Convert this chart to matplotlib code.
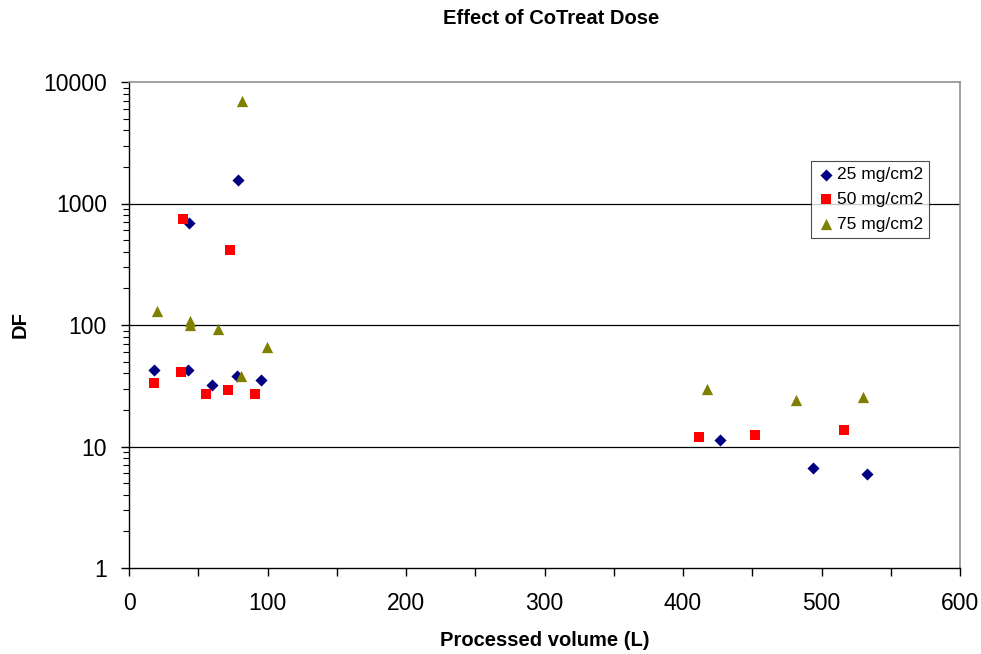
import matplotlib

matplotlib.use("Agg")
import matplotlib.pyplot as plt
from matplotlib.ticker import LogLocator, FixedFormatter, FixedLocator, NullFormatter

# Data
vol_25 = [18.3, 42.8, 43.5, 59.7, 77.7, 78.5, 95.3, 426.5, 493.9, 532.9]
df_25 = [43, 43, 687, 32, 38.3, 1560, 35.2, 11.3, 6.7, 5.9]

vol_50 = [18.3, 37.5, 38.7, 55.6, 71.7, 72.9, 90.7, 411.3, 452.0, 516.5]
df_50 = [33.5, 40.8, 741, 27, 29, 414, 27, 12.05, 12.4, 13.7]

vol_75 = [20.0, 44.3, 44.3, 64.3, 80.6, 81.8, 99.9, 417.6, 481.8, 530.0]
df_75 = [131, 108, 100, 92, 38, 7015, 65.5, 29.6, 24.2, 25.7]

x_ticks = [0, 50, 100, 150, 200, 250, 300, 350, 400, 450, 500, 550, 600]
x_labels = ["0", "", "100", "", "200", "", "300", "", "400", "", "500", "", "600"]
y_ticks = [1, 10, 100, 1000, 10000]
y_labels = ["1", "10", "100", "1000", "10000"]

series = [
    ("25 mg/cm2", vol_25, df_25, "D", "#000080", 38),
    ("50 mg/cm2", vol_50, df_50, "s", "#ff0000", 56),
    ("75 mg/cm2", vol_75, df_75, "^", "#808000", 66),
]

plt.rcParams["font.family"] = ["Liberation Sans", "DejaVu Sans"]

fig = plt.figure(figsize=(9.81, 6.54), dpi=100)
ax = fig.add_axes([129 / 981, 1 - 568 / 654, 831 / 981, 486 / 654])

for label, x, y, marker, color, size in series:
    ax.scatter(x, y, marker=marker, s=size, color=color, label=label,
               linewidths=0, zorder=3)

ax.set_yscale("log")
ax.set_xlim(0, 600)
ax.set_ylim(1, 10000)

# horizontal gridlines at the decades
for v in [10, 100, 1000]:
    ax.axhline(v, color="black", lw=0.9, zorder=1)

ax.xaxis.set_major_locator(FixedLocator(x_ticks))
ax.xaxis.set_major_formatter(FixedFormatter(x_labels))
ax.yaxis.set_major_locator(FixedLocator(y_ticks))
ax.yaxis.set_major_formatter(FixedFormatter(y_labels))
ax.yaxis.set_minor_locator(LogLocator(base=10, subs=range(2, 10)))
ax.yaxis.set_minor_formatter(NullFormatter())

ax.tick_params(axis="both", which="major", labelsize=16.5, length=6, width=1, direction="out")
ax.tick_params(axis="y", which="minor", length=4.5, width=0.8, direction="out")
ax.tick_params(axis="x", which="major", pad=11)
ax.tick_params(axis="y", which="major", pad=10)

for side in ["left", "bottom"]:
    ax.spines[side].set_color("black")
    ax.spines[side].set_linewidth(1)
for side in ["top", "right"]:
    ax.spines[side].set_color("#909090")
    ax.spines[side].set_linewidth(1.2)

ax.set_xlabel("Processed volume (L)", fontsize=14.5, fontweight="bold")
ax.xaxis.set_label_coords(0.5, (568 - 641) / 486)
ax.xaxis.label.set_va("center")
ax.set_ylabel("DF", fontsize=14.5, fontweight="bold")
ax.yaxis.set_label_coords((20 - 129) / 831, 0.5)
ax.yaxis.label.set_va("center")

fig.suptitle("Effect of CoTreat Dose", x=551 / 981, y=1 - 18 / 654, fontsize=14.5,
             fontweight="bold", va="center")

leg = ax.legend(loc="upper left", bbox_to_anchor=((811 - 129) / 831, (568 - 161) / 486),
                fontsize=12.5, frameon=True, fancybox=False, edgecolor="#202020",
                handletextpad=0.15, borderpad=0.35, labelspacing=0.55, handlelength=1.0,
                borderaxespad=0, markerscale=1.0)
leg.get_frame().set_linewidth(0.8)

fig.savefig("out.png", dpi=100)
